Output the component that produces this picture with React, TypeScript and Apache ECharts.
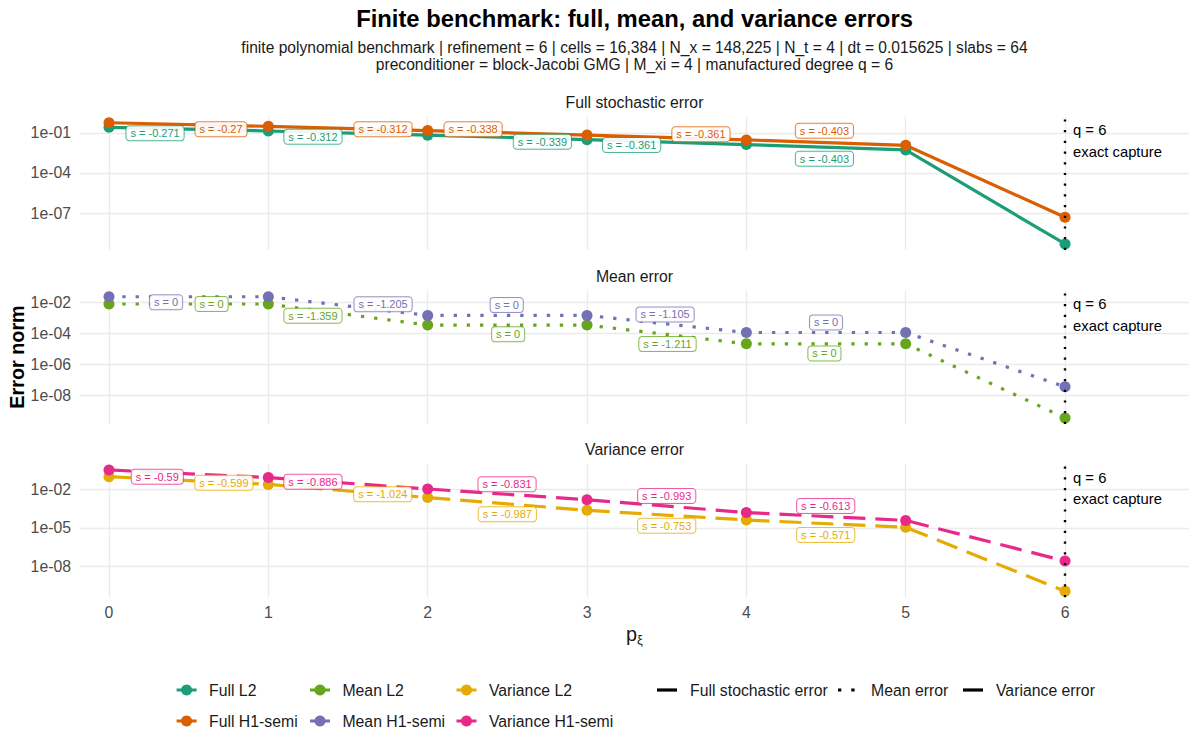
import React, { useEffect, useRef } from "react";
import * as echarts from "echarts";

// ---------------- data ----------------
const P_XI = [0, 1, 2, 3, 4, 5, 6];

const FULL_L2 = [2.54e-1, 1.36e-1, 6.64e-2, 3.04e-2, 1.32e-2, 5.24e-3, 5.0e-10];
const FULL_H1 = [5.62e-1, 3.02e-1, 1.47e-1, 6.76e-2, 2.94e-2, 1.16e-2, 5.0e-8];
const MEAN_L2 = [7.76e-3, 7.76e-3, 3.39e-4, 3.39e-4, 2.09e-5, 2.09e-5, 3.4e-10];
const MEAN_H1 = [2.29e-2, 2.29e-2, 1.43e-3, 1.43e-3, 1.12e-4, 1.12e-4, 3.5e-8];
const VAR_L2 = [9.55e-2, 2.4e-2, 2.29e-3, 2.34e-4, 4.17e-5, 1.12e-5, 1.26e-10];
const VAR_H1 = [3.16e-1, 8.13e-2, 1.06e-2, 1.56e-3, 1.58e-4, 3.86e-5, 2.75e-8];

const SLOPES_FULL_L2 = ["-0.271", "-0.312", "-0.339", "-0.361", "-0.403"];
const SLOPES_FULL_H1 = ["-0.27", "-0.312", "-0.338", "-0.361", "-0.403"];
const SLOPES_MEAN_L2 = ["0", "-1.359", "0", "-1.211", "0"];
const SLOPES_MEAN_H1 = ["0", "-1.205", "0", "-1.105", "0"];
const SLOPES_VAR_L2 = ["-0.599", "-1.024", "-0.987", "-0.753", "-0.571"];
const SLOPES_VAR_H1 = ["-0.59", "-0.886", "-0.831", "-0.993", "-0.613"];

const Y_TICKS_FULL = [-1, -4, -7];
const Y_TICKS_MEAN = [-2, -4, -6, -8];
const Y_TICKS_VAR = [-2, -5, -8];

const EXACT_DEGREE = 6;

// ---------------- layout (annotation anchors in data units: p, log10 value) ----------------
const ANCH_FULL_L2 = [[0.289, -1.04], [1.28, -1.29], [2.72, -1.67], [3.28, -1.91], [4.49, -2.94]];
const ANCH_FULL_H1 = [[0.703, -0.74], [1.72, -0.74], [2.285, -0.74], [3.715, -1.11], [4.49, -0.85]];
const ANCH_MEAN_L2 = [[0.644, -2.11], [1.28, -2.87], [2.505, -4.07], [3.505, -4.7], [4.49, -5.3]];
const ANCH_MEAN_H1 = [[0.358, -2.0], [1.72, -2.13], [2.496, -2.18], [3.49, -2.78], [4.5, -3.3]];
const ANCH_VAR_L2 = [[0.721, -1.49], [1.718, -2.39], [2.5, -3.94], [3.5, -4.82], [4.498, -5.54]];
const ANCH_VAR_H1 = [[0.303, -1.02], [1.28, -1.41], [2.498, -1.61], [3.5, -2.52], [4.498, -3.29]];

const FONT = '"Liberation Sans", Arial, Helvetica, sans-serif';
const C = {
  fullL2: "#1B9E77",
  fullH1: "#D95F02",
  meanH1: "#7570B3",
  varH1: "#E7298A",
  meanL2: "#66A61E",
  varL2: "#E6AB02",
};
const DOTTED = [3.3, 10];
const LONGDASH = [22, 10];

const GRID_LEFT = 80;
const GRID_RIGHT = 5;
const GRID_H = 133.3;
const X_MIN = -0.182;
const X_MAX = 6.778;

const PANELS = [
  {
    name: "Full stochastic error",
    top: 116.7,
    yMin: -9.75,
    yMax: 0.2,
    ticks: Y_TICKS_FULL,
    dash: "solid" as any,
    metrics: [
      { key: "Full L2", values: FULL_L2, slopes: SLOPES_FULL_L2, anchors: ANCH_FULL_L2, color: C.fullL2 },
      { key: "Full H1-semi", values: FULL_H1, slopes: SLOPES_FULL_H1, anchors: ANCH_FULL_H1, color: C.fullH1 },
    ],
  },
  {
    name: "Mean error",
    top: 290.7,
    yMin: -9.86,
    yMax: -1.25,
    ticks: Y_TICKS_MEAN,
    dash: DOTTED as any,
    metrics: [
      { key: "Mean L2", values: MEAN_L2, slopes: SLOPES_MEAN_L2, anchors: ANCH_MEAN_L2, color: C.meanL2 },
      { key: "Mean H1-semi", values: MEAN_H1, slopes: SLOPES_MEAN_H1, anchors: ANCH_MEAN_H1, color: C.meanH1 },
    ],
  },
  {
    name: "Variance error",
    top: 463.9,
    yMin: -10.37,
    yMax: -0.03,
    ticks: Y_TICKS_VAR,
    dash: LONGDASH as any,
    metrics: [
      { key: "Variance L2", values: VAR_L2, slopes: SLOPES_VAR_L2, anchors: ANCH_VAR_L2, color: C.varL2 },
      { key: "Variance H1-semi", values: VAR_H1, slopes: SLOPES_VAR_H1, anchors: ANCH_VAR_H1, color: C.varH1 },
    ],
  },
];

function alpha(hex: string, a: number) {
  const r = parseInt(hex.slice(1, 3), 16);
  const g = parseInt(hex.slice(3, 5), 16);
  const b = parseInt(hex.slice(5, 7), 16);
  return `rgba(${r},${g},${b},${a})`;
}

function fmtExp(v: number) {
  const e = Math.round(v);
  const s = e < 0 ? "-" : "+";
  return `1e${s}${String(Math.abs(e)).padStart(2, "0")}`;
}

function txt(text: string, x: number, y: number, font: string, fill: string, align = "center", extra: any = {}) {
  return {
    type: "text",
    x,
    y,
    silent: true,
    ...extra,
    style: {
      text,
      font,
      fill,
      textAlign: align,
      textVerticalAlign: "middle",
      align,
      verticalAlign: "middle",
    },
  };
}

function buildOption() {
  const grids: any[] = [];
  const xAxes: any[] = [];
  const yAxes: any[] = [];
  const series: any[] = [];

  PANELS.forEach((pn, i) => {
    grids.push({ left: GRID_LEFT, right: GRID_RIGHT, top: pn.top, height: GRID_H, containLabel: false });
    const isBottom = i === PANELS.length - 1;
    xAxes.push({
      type: "value",
      gridIndex: i,
      min: X_MIN,
      max: X_MAX,
      axisLine: { show: false },
      axisTick: { show: false, customValues: P_XI },
      axisLabel: {
        show: isBottom,
        customValues: P_XI,
        color: "#4D4D4D",
        fontSize: 15.8,
        fontFamily: FONT,
        margin: 7,
      },
      splitLine: { show: true, lineStyle: { color: "#EBEBEB", width: 1.3 } },
      name: isBottom ? "{p|p}{s|ξ}" : "",
      nameLocation: "middle",
      nameGap: 25,
      nameTextStyle: {
        rich: {
          p: { fontSize: 19.8, color: "#1A1A1A", fontFamily: FONT },
          s: { fontSize: 13, color: "#1A1A1A", fontFamily: FONT, padding: [11, 0, 0, 0] },
        },
      },
    });
    yAxes.push({
      type: "value",
      gridIndex: i,
      min: pn.yMin,
      max: pn.yMax,
      axisLine: { show: false },
      axisTick: { show: false, customValues: pn.ticks },
      axisLabel: {
        customValues: pn.ticks,
        formatter: (v: number) => fmtExp(v),
        color: "#4D4D4D",
        fontSize: 15.8,
        fontFamily: FONT,
        margin: 9,
      },
      splitLine: { show: true, lineStyle: { color: "#EBEBEB", width: 1.3 } },
    });

    pn.metrics.forEach((m) => {
      series.push({
        type: "line",
        name: m.key,
        xAxisIndex: i,
        yAxisIndex: i,
        data: P_XI.map((p, j) => [p, Math.log10(m.values[j])]),
        symbol: "circle",
        symbolSize: 11,
        showSymbol: true,
        silent: true,
        z: 3,
        lineStyle: { color: m.color, width: 3.2, type: pn.dash, cap: "butt" },
        itemStyle: { color: m.color },
      });
    });
    pn.metrics.forEach((m) => {
      series.push({
        type: "scatter",
        xAxisIndex: i,
        yAxisIndex: i,
        symbolSize: 0,
        silent: true,
        clip: false,
        z: 6,
        itemStyle: { opacity: 1, color: m.color },
        data: m.anchors.map((a, j) => ({ value: a, name: "s = " + m.slopes[j] })),
        label: {
          show: true,
          position: "inside",
          formatter: "{b}",
          color: m.color,
          opacity: 1,
          fontSize: 11,
          fontFamily: FONT,
          backgroundColor: "rgba(255,255,255,0.92)",
          borderColor: alpha(m.color, 0.75),
          borderWidth: 1,
          borderRadius: 3,
          padding: [2, 4, 1, 4],
        },
      });
    });
    // exact-capture annotation + vertical reference line
    series.push({
      type: "scatter",
      xAxisIndex: i,
      yAxisIndex: i,
      symbolSize: 0,
      silent: true,
      clip: false,
      z: 8,
      itemStyle: { opacity: 1 },
      data: [[EXACT_DEGREE, pn.yMax]],
      label: {
        show: true,
        position: [8, 3],
        align: "left",
        verticalAlign: "top",
        formatter: `q = ${EXACT_DEGREE}\nexact capture`,
        fontSize: 14.8,
        lineHeight: 21.6,
        color: "#000",
        fontFamily: FONT,
      },
      markLine: {
        silent: true,
        symbol: ["none", "none"],
        label: { show: false },
        lineStyle: { color: "#000", type: [2.2, 8.5], width: 2.4, opacity: 1 },
        data: [{ xAxis: EXACT_DEGREE }],
        z: 8,
      },
    });
  });

  // -------- graphic: titles, strips, y title, legend --------
  const cx = GRID_LEFT + (1194 - GRID_LEFT - GRID_RIGHT) / 2;
  const graphic: any[] = [];
  graphic.push(txt("Finite benchmark: full, mean, and variance errors", cx, 18, `bold 23.8px ${FONT}`, "#000"));
  graphic.push(
    txt(
      "finite polynomial benchmark | refinement = 6 | cells = 16,384 | N_x = 148,225 | N_t = 4 | dt = 0.015625 | slabs = 64",
      cx,
      47.5,
      `15.6px ${FONT}`,
      "#1A1A1A"
    )
  );
  graphic.push(
    txt("preconditioner = block-Jacobi GMG | M_xi = 4 | manufactured degree q = 6", cx, 64, `15.6px ${FONT}`, "#1A1A1A")
  );
  PANELS.forEach((pn) => {
    graphic.push(txt(pn.name, cx, pn.top - 14.4, `15.8px ${FONT}`, "#1A1A1A"));
  });
  graphic.push(txt("Error norm", 16.5, 357, `bold 19.8px ${FONT}`, "#000", "center", { rotation: Math.PI / 2 }));

  // legend
  const row1 = 690;
  const row2 = 721;
  const colKeys = [186.6, 320, 466.5];
  const colorItems = [
    { label: "Full L2", color: C.fullL2, col: 0, row: row1 },
    { label: "Mean L2", color: C.meanL2, col: 1, row: row1 },
    { label: "Variance L2", color: C.varL2, col: 2, row: row1 },
    { label: "Full H1-semi", color: C.fullH1, col: 0, row: row2 },
    { label: "Mean H1-semi", color: C.meanH1, col: 1, row: row2 },
    { label: "Variance H1-semi", color: C.varH1, col: 2, row: row2 },
  ];
  colorItems.forEach((it) => {
    const k = colKeys[it.col];
    graphic.push({
      type: "line",
      silent: true,
      shape: { x1: k - 10, y1: it.row, x2: k + 10, y2: it.row },
      style: { stroke: it.color, lineWidth: 3 },
    });
    graphic.push({ type: "circle", silent: true, shape: { cx: k, cy: it.row, r: 5.5 }, style: { fill: it.color } });
    graphic.push(txt(it.label, k + 22.4, it.row, `15.8px ${FONT}`, "#1A1A1A", "left"));
  });
  const ltItems = [
    { label: "Full stochastic error", dash: null, k: 667 },
    { label: "Mean error", dash: DOTTED, k: 848 },
    { label: "Variance error", dash: LONGDASH, k: 973 },
  ];
  ltItems.forEach((it) => {
    graphic.push({
      type: "line",
      silent: true,
      shape: { x1: it.k - 10, y1: row1, x2: it.k + 10, y2: row1 },
      style: { stroke: "#000", lineWidth: 3.2, lineDash: it.dash || null, lineCap: "butt" },
    });
    graphic.push(txt(it.label, it.k + 23, row1, `15.8px ${FONT}`, "#1A1A1A", "left"));
  });

  return {
    animation: false,
    backgroundColor: "#ffffff",
    textStyle: { fontFamily: FONT },
    grid: grids,
    xAxis: xAxes,
    yAxis: yAxes,
    series,
    graphic,
  };
}

export default function App() {
  const ref = useRef<HTMLDivElement>(null);
  useEffect(() => {
    if (!ref.current) return;
    const chart = echarts.init(ref.current, null, { renderer: "svg" });
    chart.setOption(buildOption() as any);
    return () => chart.dispose();
  }, []);
  return (
    <div
      ref={ref}
      style={{ position: "fixed", left: 0, top: 0, width: 1194, height: 733, background: "#fff" }}
    />
  );
}
